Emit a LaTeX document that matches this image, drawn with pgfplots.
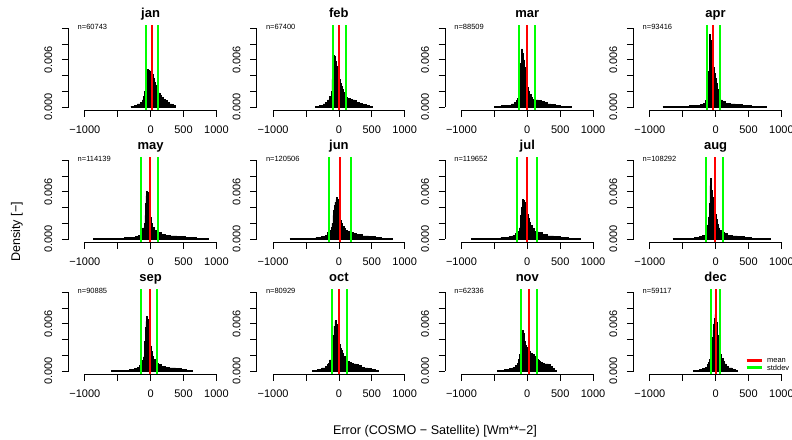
\documentclass[border=0pt]{standalone}
\usepackage{fontspec}
\setmainfont{Liberation Sans}
\usepackage{pgfplots}
\pgfplotsset{compat=1.18}
\newcommand\ticksize{\fontsize{11}{13}\selectfont}
\newcommand\titlesize{\fontsize{13}{15}\selectfont\bfseries}
\newcommand\nsize{\fontsize{7.5}{9}\selectfont}
\newcommand\labsize{\fontsize{12.6}{15}\selectfont}
\definecolor{rgreen}{RGB}{0,255,0}
\definecolor{rred}{RGB}{255,0,0}
% #1 left, #2 bottom (px from top), #3 title, #4 n, #5 data, #6 mean, #7 sd low, #8 sd high, #9 extra
\newcommand{\panel}[9]{%
\begin{axis}[
 at={(#1pt,-#2pt)}, anchor=south west,
 width=164.2pt, height=84.8pt, scale only axis,
 xmin=-1248, xmax=1248, ymin=-0.0004, ymax=0.0104,
 axis x line*=bottom, axis y line*=left,
 axis line style={draw=none},
 tick align=outside, major tick length=6.7pt,
 xtick={-1000,-500,0,500,1000}, xticklabels={−1000,{},0,500,1000},
 ytick={0,0.002,0.004,0.006,0.008,0.010}, yticklabels={0.000,{},{},0.006,{},{}},
 scaled y ticks=false, scaled x ticks=false,
 tick style={black, line width=0.8pt},
 ticklabel style={font=\ticksize},
 xticklabel style={yshift=-5pt},
 yticklabel style={xshift=-6pt, rotate=90, anchor=south},
 clip=false,
]
\addplot[fill=black, draw=black, line width=0.6pt, const plot] coordinates {#5} \closedcycle;
\addplot[draw=rred, line width=2pt, mark=none] coordinates {(#6,-0.0004) (#6,0.0104)};
\addplot[draw=rgreen, line width=2pt, mark=none] coordinates {(#7,-0.0004) (#7,0.0104)};
\addplot[draw=rgreen, line width=2pt, mark=none] coordinates {(#8,-0.0004) (#8,0.0104)};
\draw[line width=0.8pt] (axis cs:-1000,-0.0004) -- (axis cs:1000,-0.0004);
\draw[line width=0.8pt] (axis cs:-1248,0) -- (axis cs:-1248,0.010);
\node[anchor=base, yshift=7.5pt, font=\titlesize] at (axis cs:0,0.0104) {#3};
\node[anchor=base west, font=\nsize, inner sep=0pt] at (axis cs:-1111,0.00984) {n=#4};
#9
\end{axis}}
\begin{document}
\begin{tikzpicture}
\path[use as bounding box] (0,0) rectangle (792pt,-439pt);
% row 1
\panel{68.5}{110.1}{jan}{60743}{(-300,0)(-300,0.0001)(-250,0.0002)(-200,0.0004)(-160,0.0006)(-130,0.0009)(-110,0.0013)(-95,0.002)(-85,0.0035)(-75,0.0046)(-60,0.0048)(-40,0.0047)(-20,0.0045)(-5,0.0046)(10,0.0046)(25,0.0042)(40,0.0037)(55,0.0032)(70,0.0028)(85,0.0025)(100,0.0022)(120,0.0018)(140,0.0015)(165,0.0012)(190,0.001)(220,0.0008)(250,0.0006)(285,0.0004)(320,0.0003)(350,0.00015)(375,0)}{20}{-75}{110}{}
\panel{256.8}{110.1}{feb}{67400}{(-355,0)(-355,0.0001)(-300,0.0002)(-240,0.0004)(-200,0.0006)(-170,0.0009)(-140,0.0013)(-120,0.002)(-105,0.0035)(-95,0.0055)(-85,0.0066)(-75,0.0064)(-60,0.0058)(-45,0.0052)(-30,0.0046)(-15,0.004)(0,0.0035)(15,0.003)(30,0.0026)(45,0.0022)(60,0.0019)(80,0.0015)(100,0.0012)(125,0.0011)(150,0.0011)(180,0.001)(210,0.0009)(240,0.0008)(270,0.0006)(310,0.0005)(360,0.0003)(410,0.0002)(460,0.0001)(515,0)}{3}{-95}{105}{}
\panel{445.2}{110.1}{mar}{88509}{(-505,0)(-505,0.0001)(-400,0.00015)(-300,0.0002)(-240,0.0004)(-200,0.0006)(-170,0.0008)(-145,0.0011)(-125,0.0018)(-112,0.003)(-100,0.0055)(-92,0.007)(-85,0.0074)(-75,0.0068)(-60,0.006)(-45,0.005)(-30,0.004)(-15,0.003)(0,0.0025)(15,0.002)(35,0.0016)(55,0.0012)(80,0.001)(110,0.0009)(140,0.0009)(170,0.0008)(210,0.0007)(260,0.0006)(310,0.0004)(360,0.0003)(420,0.0002)(500,0.0001)(580,0.00006)(670,0)}{-5}{-125}{120}{}
\panel{633.5}{110.1}{apr}{93416}{(-800,0)(-800,0.00005)(-600,0.0001)(-400,0.00015)(-300,0.0002)(-230,0.0003)(-180,0.0005)(-150,0.0008)(-125,0.001)(-115,0.0025)(-105,0.0045)(-98,0.007)(-90,0.0092)(-75,0.0085)(-65,0.0075)(-55,0.006)(-40,0.005)(-25,0.0043)(-10,0.0036)(5,0.003)(20,0.0023)(35,0.0017)(50,0.0013)(75,0.0009)(100,0.0007)(150,0.0005)(220,0.0004)(300,0.0003)(400,0.0002)(550,0.0001)(775,0)}{-40}{-135}{60}{}
% row 2
\panel{68.5}{242.1}{may}{114139}{(-875,0)(-875,0.00005)(-600,0.0001)(-400,0.00015)(-300,0.0002)(-230,0.0003)(-190,0.0005)(-160,0.0007)(-140,0.001)(-120,0.0014)(-100,0.002)(-88,0.003)(-80,0.0045)(-70,0.0055)(-60,0.0061)(-45,0.0059)(-35,0.0055)(-25,0.0045)(-15,0.0035)(-5,0.0027)(10,0.002)(30,0.0015)(55,0.0011)(85,0.0009)(120,0.0008)(170,0.0006)(230,0.0005)(300,0.0004)(400,0.0003)(530,0.0002)(700,0.0001)(870,0)}{-15}{-140}{110}{}
\panel{256.8}{242.1}{jun}{120506}{(-745,0)(-745,0.00005)(-500,0.0001)(-350,0.0002)(-260,0.0003)(-210,0.0005)(-170,0.0008)(-140,0.0011)(-120,0.0015)(-105,0.002)(-90,0.003)(-80,0.0037)(-70,0.0043)(-60,0.0047)(-45,0.005)(-35,0.0053)(-25,0.0051)(-15,0.0045)(-5,0.0038)(5,0.003)(15,0.0024)(30,0.002)(50,0.0016)(75,0.0013)(100,0.0011)(130,0.001)(170,0.0008)(220,0.0007)(270,0.0006)(350,0.0004)(450,0.0003)(550,0.0002)(650,0.0001)(805,0)}{15}{-145}{180}{}
\panel{445.2}{242.1}{jul}{119652}{(-845,0)(-845,0.00005)(-600,0.0001)(-400,0.0002)(-280,0.0003)(-220,0.0005)(-180,0.0007)(-150,0.001)(-125,0.0014)(-110,0.002)(-100,0.003)(-90,0.004)(-80,0.0047)(-70,0.005)(-55,0.0049)(-40,0.0047)(-30,0.0043)(-20,0.0039)(-5,0.0032)(10,0.0026)(25,0.0021)(45,0.0017)(70,0.0013)(100,0.001)(140,0.0009)(180,0.0008)(230,0.0006)(300,0.0004)(400,0.0003)(500,0.0002)(620,0.0001)(805,0)}{-5}{-155}{145}{}
\panel{633.5}{242.1}{aug}{108292}{(-650,0)(-650,0.00005)(-450,0.0001)(-320,0.0002)(-250,0.0003)(-200,0.0005)(-160,0.0008)(-135,0.0012)(-120,0.0018)(-105,0.0028)(-95,0.0045)(-88,0.0068)(-80,0.0077)(-68,0.0072)(-58,0.0062)(-48,0.0053)(-35,0.0045)(-22,0.0038)(-10,0.0031)(5,0.0025)(20,0.0019)(40,0.0014)(60,0.0011)(90,0.0009)(130,0.0007)(180,0.0005)(250,0.0004)(330,0.0003)(430,0.0002)(550,0.0001)(825,0)}{-15}{-140}{115}{}
% row 3
\panel{68.5}{374.1}{sep}{90885}{(-590,0)(-590,0.00005)(-420,0.0001)(-320,0.0002)(-250,0.0003)(-200,0.0005)(-170,0.0007)(-150,0.0009)(-130,0.0013)(-115,0.0018)(-100,0.0027)(-90,0.0038)(-80,0.0055)(-70,0.0063)(-60,0.0069)(-45,0.0066)(-35,0.006)(-25,0.005)(-15,0.004)(-5,0.0032)(10,0.0025)(25,0.0019)(45,0.0015)(65,0.0012)(90,0.001)(120,0.0008)(160,0.0006)(220,0.0005)(290,0.0004)(380,0.0003)(470,0.0002)(550,0.0001)(635,0)}{-15}{-140}{100}{}
\panel{256.8}{374.1}{oct}{80929}{(-405,0)(-405,0.0001)(-330,0.0002)(-260,0.0004)(-210,0.0006)(-180,0.0008)(-160,0.001)(-140,0.0014)(-120,0.002)(-105,0.0028)(-95,0.0035)(-85,0.0045)(-75,0.0057)(-62,0.0063)(-50,0.0064)(-40,0.006)(-30,0.0055)(-20,0.0047)(-10,0.004)(0,0.0034)(15,0.0029)(30,0.0026)(50,0.0022)(70,0.0019)(90,0.0015)(110,0.0013)(135,0.0012)(160,0.0011)(190,0.001)(220,0.0009)(260,0.0008)(300,0.0007)(340,0.0005)(390,0.0004)(440,0.0003)(500,0.0002)(550,0.0001)(605,0)}{5}{-105}{128}{}
\panel{445.2}{374.1}{nov}{62336}{(-455,0)(-455,0.0001)(-350,0.0002)(-270,0.0003)(-220,0.0005)(-180,0.0007)(-155,0.001)(-135,0.0015)(-115,0.0021)(-100,0.003)(-90,0.0042)(-80,0.005)(-70,0.0052)(-60,0.0048)(-50,0.0042)(-40,0.0038)(-25,0.0033)(-10,0.003)(5,0.0027)(20,0.0025)(40,0.0023)(60,0.0022)(80,0.0021)(100,0.0019)(120,0.0017)(140,0.0015)(160,0.0013)(180,0.0012)(200,0.0011)(230,0.001)(260,0.0009)(290,0.0009)(320,0.0008)(350,0.0006)(380,0.0003)(410,0.0001)(445,0)}{30}{-90}{140}{}
\panel{633.5}{374.1}{dec}{59117}{(-335,0)(-335,0.0001)(-250,0.0002)(-200,0.0003)(-160,0.0005)(-130,0.0008)(-110,0.0011)(-95,0.0015)(-80,0.002)(-70,0.0026)(-60,0.0033)(-50,0.0043)(-40,0.0052)(-30,0.006)(-20,0.0067)(-10,0.0072)(0,0.0068)(10,0.0062)(20,0.0054)(30,0.0045)(40,0.0037)(50,0.003)(60,0.0025)(75,0.0021)(90,0.0016)(110,0.0012)(130,0.0009)(160,0.0006)(200,0.0004)(250,0.0002)(300,0.0001)(325,0)}{5}{-75}{70}{%
\draw[rred, line width=3pt] (axis cs:471,0.00136) -- (axis cs:699,0.00136);
\node[anchor=west, font=\nsize, inner sep=0pt] at (axis cs:780,0.00136) {mean};
\draw[rgreen, line width=3pt] (axis cs:471,0.00042) -- (axis cs:699,0.00042);
\node[anchor=west, font=\nsize, inner sep=0pt] at (axis cs:780,0.00042) {stddev};
}
\node[rotate=90, anchor=base, font=\labsize] at (20pt,-232pt) {Density [−]};
\node[anchor=base, font=\labsize] at (435pt,-434pt) {Error (COSMO − Satellite) [Wm**−2]};
\end{tikzpicture}
\end{document}
